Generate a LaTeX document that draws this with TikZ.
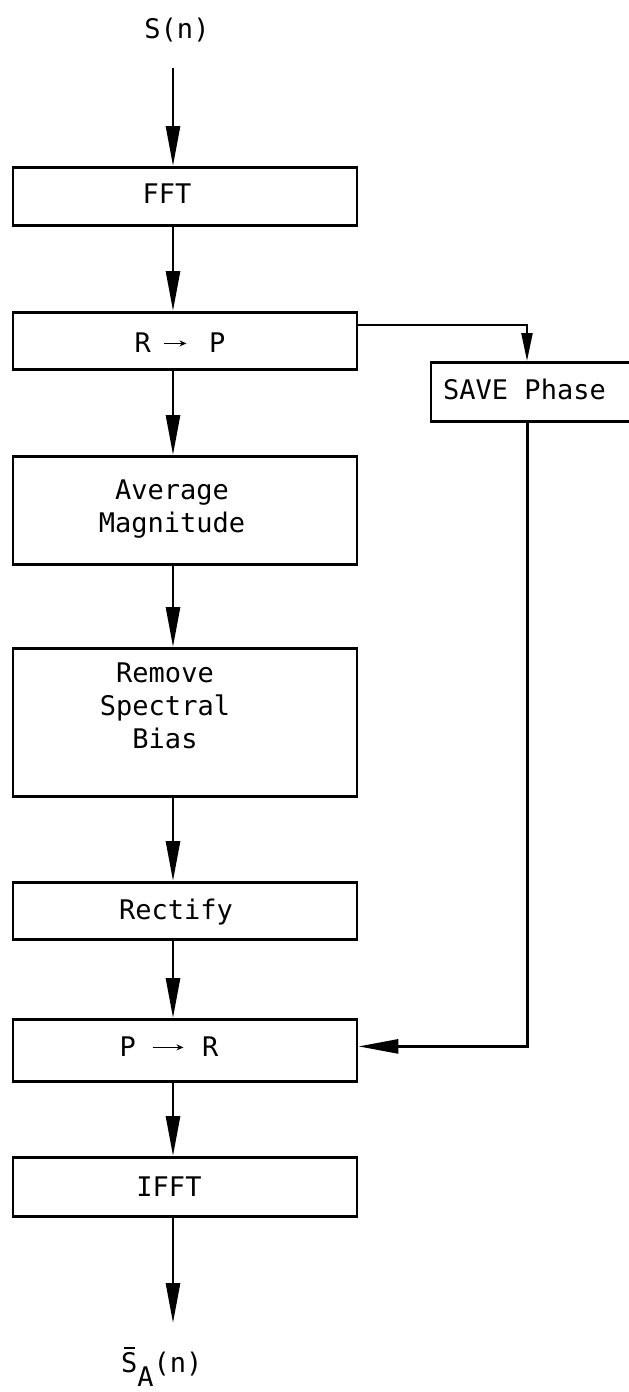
\documentclass[tikz,border=0pt]{standalone}
\usepackage{fontspec}
\setmonofont{DejaVu Sans Mono}
\usetikzlibrary{arrows.meta}
\newcommand{\bxt}[2]{\makebox[0pt]{\hspace*{#1}\hspace*{#1}\begin{tabular}[t]{@{}c@{}}#2\end{tabular}}}
\newcommand{\rarr}[1]{\raisebox{9pt}{\tikz[x=1pt,y=1pt,baseline=0pt]\draw[line width=1.4pt,-{Stealth[length=7pt,width=6pt]}] (0,0) -- (#1,0);}}
\begin{document}
\begin{tikzpicture}[x=1pt,y=-1pt,
  every node/.style={font=\ttfamily\fontsize{27}{33}\selectfont},
  blk/.style={draw, line width=2.8pt, rectangle, inner sep=0pt, anchor=north, minimum width=344pt},
  arr/.style={line width=2.8pt, -{Triangle[length=40pt,width=14pt]}},
  brarr/.style={line width=2.2pt, -{Triangle[length=28pt,width=11pt]}}]
\useasboundingbox (0,0) rectangle (629,1392);
\clip (0,0) rectangle (629,1392);
\fill[white] (0,0) rectangle (629,1392);

\node[anchor=base] (sin) at (177,38) {S(n)};
\coordinate (in) at (173,68);

\node[blk, text height=36pt, text depth=22pt] (fft) at (185,166) {\bxt{-18pt}{FFT}};
\node[blk, text height=40pt, text depth=17pt] (rp) at (185,311) {\bxt{-5pt}{R\hspace{12pt}\rarr{23}\hspace{22pt}P}};
\node[blk, minimum width=209pt, text height=37pt, text depth=22pt] (save) at (535.5,361) {\bxt{-11pt}{SAVE Phase}};
\node[blk, text height=43pt, text depth=65pt] (avg) at (185,455) {\bxt{-13pt}{Average\\Magnitude}};
\node[blk, text height=34pt, text depth=114pt] (rem) at (185,647) {\bxt{-20pt}{Remove\\Spectral\\Bias}};
\node[blk, text height=37pt, text depth=20pt] (rect) at (185,881) {\bxt{-9pt}{Rectify}};
\node[blk, text height=37pt, text depth=25pt] (pr) at (185,1018) {\bxt{-16pt}{P\hspace{16pt}\rarr{31}\hspace{18pt}R}};
\node[blk, text height=39pt, text depth=20pt] (ifft) at (185,1156) {\bxt{-16pt}{IFFT}};

\coordinate (out) at (173,1323);
\node[anchor=base west, inner sep=0pt] (sout) at (121,1372)
  {\makebox[0pt][l]{\hspace{3pt}\raisebox{23pt}{\rule{11pt}{2.2pt}}}S\raisebox{-14pt}{A}(n)};

\draw[arr] (in) -- (fft.north -| in);
\draw[arr] (fft.south -| in) -- (rp.north -| in);
\draw[arr] (rp.south -| in) -- (avg.north -| in);
\draw[arr] (avg.south -| in) -- (rem.north -| in);
\draw[arr] (rem.south -| in) -- (rect.north -| in);
\draw[arr] (rect.south -| in) -- (pr.north -| in);
\draw[arr] (pr.south -| in) -- (ifft.north -| in);
\draw[arr] (ifft.south -| in) -- (out);

\draw[brarr] ([yshift=-14pt]rp.north east) -| ([xshift=-8.5pt]save.north);
\draw[arr] ([xshift=-8pt]save.south) |- ([yshift=4pt]pr.east);
\end{tikzpicture}
\end{document}
